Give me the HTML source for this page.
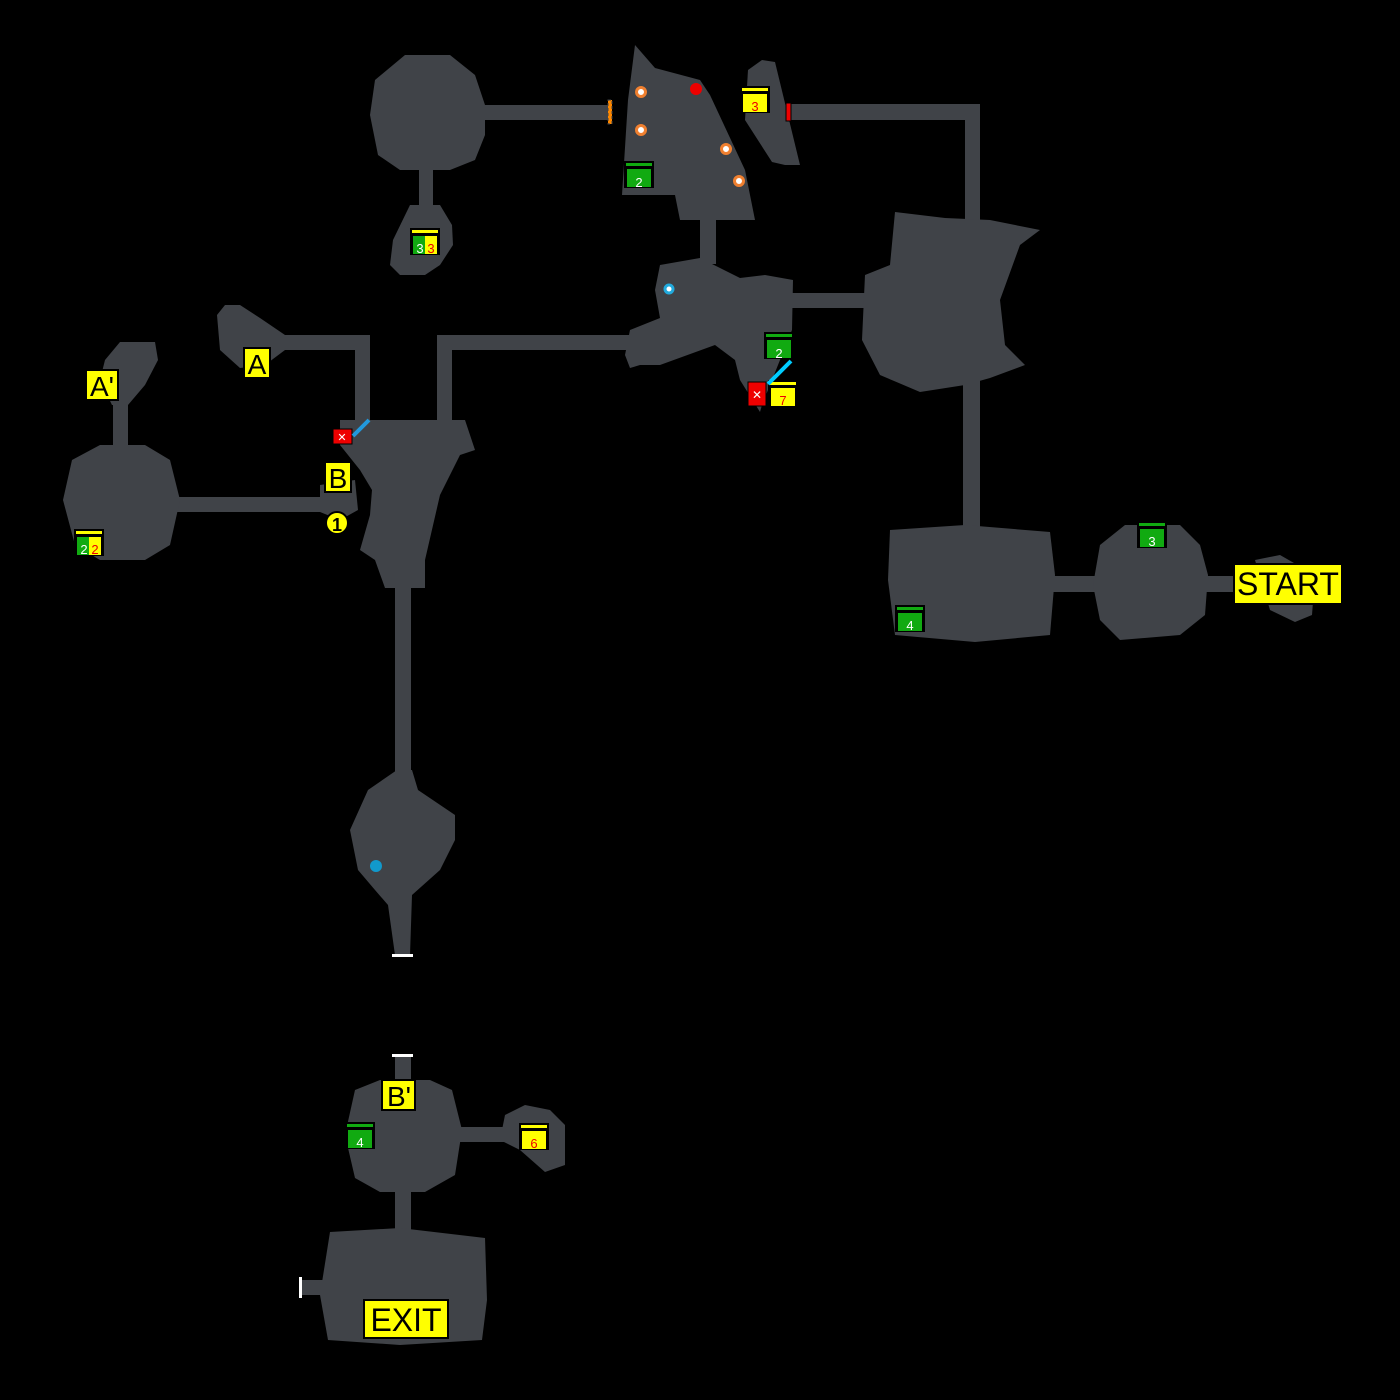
<!DOCTYPE html><html><head><style>body{margin:0;background:#000}svg{display:block}</style></head><body>
<svg width="1400" height="1400" viewBox="0 0 1400 1400" xmlns="http://www.w3.org/2000/svg" font-family="Liberation Sans, sans-serif">
<rect width="1400" height="1400" fill="#000"/>
<g fill="#404348">
<polygon points="405,55 450,55 475,75 485,105 485,135 475,160 450,170 400,170 378,155 370,115 375,80"/>
<rect x="480" y="105" width="132" height="15"/>
<rect x="419" y="168" width="14" height="45"/>
<polygon points="410,205 440,205 452,225 453,245 440,265 425,275 400,275 390,265 393,240"/>
<polygon points="635,45 655,68 700,80 710,95 745,170 755,220 680,220 675,195 622,195 628,100"/>
<polygon points="762,60 775,62 800,165 785,165 772,162 745,120 748,70"/>
<rect x="790" y="104" width="190" height="16"/>
<rect x="965" y="104" width="15" height="120"/>
<rect x="700" y="218" width="16" height="46"/>
<polygon points="660,265 700,258 740,278 765,275 793,280 792,330 762,405 760,412 740,380 735,360 715,345 660,365 640,365 630,368 625,355 630,330 660,318 655,290"/>
<rect x="788" y="293" width="80" height="15"/>
<polygon points="895,212 945,218 990,220 1040,230 1020,245 1000,300 1005,345 1025,365 990,378 965,385 920,392 880,375 862,340 865,275 890,265"/>
<rect x="963" y="380" width="17" height="150"/>
<polygon points="890,530 965,525 1050,532 1055,575 1050,635 975,642 895,635 888,580"/>
<rect x="1053" y="576" width="48" height="16"/>
<polygon points="1125,525 1180,525 1200,545 1208,575 1205,615 1180,635 1120,640 1100,620 1093,585 1100,545"/>
<rect x="1205" y="576" width="35" height="16"/>
<polygon points="1255,560 1280,555 1315,575 1312,615 1295,622 1270,610"/>
<rect x="437" y="335" width="195" height="15"/>
<rect x="437" y="335" width="15" height="90"/>
<polygon points="225,305 240,305 260,318 285,335 370,335 370,425 355,425 355,350 285,350 265,365 240,368 220,350 217,315"/>
<polygon points="340,420 465,420 475,450 460,455 440,495 425,560 425,588 385,588 375,560 360,550 370,515 372,490 360,470 340,445"/>
<rect x="175" y="497" width="155" height="15"/>
<polygon points="320,485 355,480 358,510 340,520 320,512"/>
<polygon points="100,445 145,445 170,460 180,500 170,545 145,560 100,560 75,545 63,500 72,460"/>
<rect x="113" y="400" width="15" height="50"/>
<polygon points="120,342 155,342 158,360 145,385 128,405 112,405 100,380 105,360"/>
<rect x="395" y="585" width="16" height="190"/>
<polygon points="397,770 412,770 418,790 455,815 455,840 440,870 412,895 410,955 395,955 388,905 375,890 358,870 350,830 368,790"/>
<rect x="395" y="1057" width="16" height="26"/>
<polygon points="380,1080 430,1080 452,1090 462,1130 455,1175 425,1192 380,1192 355,1178 345,1135 355,1090"/>
<rect x="458" y="1127" width="48" height="15"/>
<polygon points="525,1105 550,1110 565,1125 565,1165 545,1172 520,1150 500,1140 505,1115"/>
<rect x="395" y="1190" width="16" height="44"/>
<polygon points="330,1232 400,1228 485,1238 487,1300 482,1340 400,1345 328,1340 320,1295"/>
<rect x="302" y="1280" width="22" height="15"/>
</g>
<g fill="#fff"><rect x="392" y="954" width="21" height="3"/><rect x="392" y="1054" width="21" height="3"/><rect x="299" y="1277" width="3" height="21"/></g>
<rect x="608" y="100" width="4" height="24" fill="#f80" stroke="#404348" stroke-dasharray="3,2"/>
<rect x="786" y="103" width="5" height="18" fill="#e00" stroke="#000"/>
<g fill="#fff" stroke="#f08030" stroke-width="3">
<circle cx="641" cy="92" r="4.5"/><circle cx="641" cy="130" r="4.5"/><circle cx="726" cy="149" r="4.5"/><circle cx="739" cy="181" r="4.5"/></g>
<circle cx="696" cy="89" r="6" fill="#e00"/>
<circle cx="669" cy="289" r="4" fill="#fff" stroke="#2ad" stroke-width="3"/>
<circle cx="376" cy="866" r="6" fill="#19c"/>
<g font-size="13" text-anchor="middle">
<g><rect x="624" y="161" width="30" height="27" fill="#000"/><rect x="626" y="163" width="26" height="3" fill="#1a1"/><rect x="627" y="169" width="24" height="18" fill="#1a1"/><text x="639" y="187" fill="#fff">2</text></g>
<g><rect x="764" y="332" width="30" height="27" fill="#000"/><rect x="766" y="334" width="26" height="3" fill="#1a1"/><rect x="767" y="340" width="24" height="18" fill="#1a1"/><text x="779" y="358" fill="#fff">2</text></g>
<g><rect x="1137" y="521" width="30" height="27" fill="#000"/><rect x="1139" y="523" width="26" height="3" fill="#1a1"/><rect x="1140" y="529" width="24" height="18" fill="#1a1"/><text x="1152" y="546" fill="#fff">3</text></g>
<g><rect x="895" y="605" width="30" height="27" fill="#000"/><rect x="897" y="607" width="26" height="3" fill="#1a1"/><rect x="898" y="613" width="24" height="18" fill="#1a1"/><text x="910" y="630" fill="#fff">4</text></g>
<g><rect x="345" y="1122" width="30" height="27" fill="#000"/><rect x="347" y="1124" width="26" height="3" fill="#1a1"/><rect x="348" y="1130" width="24" height="18" fill="#1a1"/><text x="360" y="1147" fill="#fff">4</text></g>
<g><rect x="740" y="86" width="30" height="27" fill="#000"/><rect x="742" y="88" width="26" height="3" fill="#ff0"/><rect x="743" y="94" width="24" height="18" fill="#ff0"/><text x="755" y="111" fill="#e00">3</text></g>
<g><rect x="768" y="380" width="30" height="27" fill="#000"/><rect x="770" y="382" width="26" height="3" fill="#ff0"/><rect x="771" y="388" width="24" height="18" fill="#ff0"/><text x="783" y="405" fill="#e00">7</text></g>
<g><rect x="519" y="1123" width="30" height="27" fill="#000"/><rect x="521" y="1125" width="26" height="3" fill="#ff0"/><rect x="522" y="1131" width="24" height="18" fill="#ff0"/><text x="534" y="1148" fill="#e00">6</text></g>
<g><rect x="410" y="228" width="30" height="27" fill="#000"/><rect x="412" y="230" width="26" height="3" fill="#ff0"/><rect x="413" y="236" width="12" height="18" fill="#1a1"/><rect x="425" y="236" width="12" height="18" fill="#ff0"/><text x="420" y="253" fill="#fff">3</text><text x="431" y="253" fill="#e00">3</text></g>
<g><rect x="74" y="529" width="30" height="27" fill="#000"/><rect x="76" y="531" width="26" height="3" fill="#ff0"/><rect x="77" y="537" width="12" height="18" fill="#1a1"/><rect x="89" y="537" width="12" height="18" fill="#ff0"/><text x="84" y="554" fill="#fff">2</text><text x="95" y="554" fill="#e00">2</text></g>
</g>
<rect x="748" y="382" width="18" height="24" fill="#e00" stroke="#000"/><text x="757" y="399" font-size="12" fill="#fff" text-anchor="middle">✕</text>
<line x1="768" y1="384" x2="791" y2="361" stroke="#0cf" stroke-width="4"/>
<rect x="333" y="429" width="19" height="15" fill="#e00" stroke="#000"/><text x="342" y="441" font-size="11" fill="#fff" text-anchor="middle">✕</text>
<line x1="353" y1="436" x2="369" y2="420" stroke="#29d" stroke-width="4"/>
<circle cx="337" cy="523" r="11" fill="#ff0" stroke="#000" stroke-width="2"/><text x="337" y="531" font-size="18" font-weight="bold" text-anchor="middle">1</text>
<g fill="#ff0" stroke="#000" stroke-width="2">
<rect x="86" y="370" width="32" height="30"/><rect x="244" y="348" width="26" height="30"/><rect x="325" y="462" width="26" height="30"/>
<rect x="382" y="1080" width="33" height="30"/><rect x="1234" y="564" width="108" height="40"/><rect x="364" y="1300" width="84" height="38"/></g>
<g font-size="28" text-anchor="middle" fill="#000">
<text x="102" y="396">A'</text><text x="257" y="374">A</text><text x="338" y="488">B</text><text x="399" y="1106">B'</text>
<text x="1288" y="595" font-size="32">START</text><text x="406" y="1331" font-size="32">EXIT</text></g>
</svg></body></html>
